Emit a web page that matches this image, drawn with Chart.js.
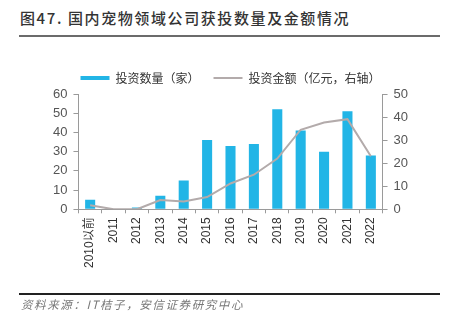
<!DOCTYPE html>
<html lang="zh-CN">
<head>
<meta charset="UTF-8">
<title>国内宠物领域公司获投数量及金额情况</title>
<script src="https://cdn.jsdelivr.net/npm/chart.js"></script>
<style>
  body { margin: 0; background: #fff; }
  .wrap { position: relative; width: 449px; height: 328px; overflow: hidden; }
  .title { position: absolute; left: 20px; top: 7px; font: 500 15px "Noto Sans CJK SC", sans-serif; letter-spacing: 1.6px; color: #333; white-space: nowrap; }
  .rule-top { position: absolute; left: 19px; top: 35px; width: 421px; height: 2px; background: #6b6b6b; }
  .rule-bottom { position: absolute; left: 19px; top: 293px; width: 421px; height: 1.5px; background: #222; }
  .source { position: absolute; left: 21px; top: 296px; font: italic 11.5px "Noto Sans CJK SC", sans-serif; letter-spacing: 1.6px; color: #777; white-space: nowrap; }
  canvas { position: absolute; left: 0; top: 0; }
</style>
</head>
<body>
<div class="wrap">
  <div class="title">图47. 国内宠物领域公司获投数量及金额情况</div>
  <div class="rule-top"></div>
  <canvas id="chart" width="449" height="328"></canvas>
  <div class="rule-bottom"></div>
  <div class="source">资料来源：IT桔子，安信证券研究中心</div>
</div>
<script>
  // 年份
  const years = ['2010以前', '2011', '2012', '2013', '2014', '2015', '2016', '2017', '2018', '2019', '2020', '2021', '2022'];
  // 投资数量（家）
  const dealCount = [5, 0, 1, 7, 15, 36, 33, 34, 52, 41, 30, 51, 28];
  // 投资金额（亿元）
  const dealAmount = [1.8, 0, 0, 4, 3.4, 5.3, 11.2, 15, 22, 34.5, 37.6, 39.1, 23];

  const leftTicks = [0, 10, 20, 30, 40, 50, 60];
  const rightTicks = [0, 10, 20, 30, 40, 50];

  const axisGray = '#9a9a9a';
  const tickFont = { family: '"Liberation Sans", Arial, sans-serif', size: 13 };

  new Chart(document.getElementById('chart'), {
    data: {
      labels: years,
      datasets: [
        {
          type: 'line',
          label: '投资金额（亿元，右轴）',
          data: dealAmount,
          yAxisID: 'y1',
          borderColor: '#b3abab',
          backgroundColor: '#b3abab',
          borderWidth: 2,
          pointRadius: 0,
          pointStyle: 'line',
          tension: 0,
          order: 0
        },
        {
          type: 'bar',
          label: '投资数量（家）',
          data: dealCount,
          yAxisID: 'y',
          backgroundColor: '#22b5e6',
          borderWidth: 0,
          pointStyle: 'rect',
          barPercentage: 0.43,
          categoryPercentage: 1,
          order: 1
        }
      ]
    },
    options: {
      responsive: false,
      animation: false,
      layout: { padding: { top: 58, left: 47, right: 35, bottom: 56 } },
      plugins: {
        tooltip: { enabled: false },
        legend: {
          reverse: true,
          labels: {
            usePointStyle: true,
            pointStyleWidth: 29,
            boxHeight: 4,
            padding: 14,
            color: '#333',
            font: { family: '"Noto Sans CJK SC", sans-serif', size: 12 }
          }
        }
      },
      scales: {
        x: {
          offset: true,
          grid: { offset: true, drawOnChartArea: false, tickLength: 4, color: axisGray },
          border: { color: axisGray },
          ticks: {
            maxRotation: 90, minRotation: 90, padding: 4, color: '#333',
            font: { family: '"Liberation Sans", Arial, "Noto Sans CJK SC", sans-serif', size: 12 }
          }
        },
        y: {
          position: 'left',
          min: 0, max: 60,
          afterBuildTicks: s => { s.ticks = leftTicks.map(v => ({ value: v })); },
          grid: { drawOnChartArea: false, tickLength: 5, color: axisGray },
          border: { color: axisGray },
          ticks: { padding: 6, color: '#555', font: tickFont }
        },
        y1: {
          position: 'right',
          min: 0, max: 50,
          afterBuildTicks: s => { s.ticks = rightTicks.map(v => ({ value: v })); },
          grid: { drawOnChartArea: false, tickLength: 5, color: axisGray },
          border: { color: axisGray },
          ticks: { padding: 6, color: '#555', font: tickFont }
        }
      }
    }
  });
</script>
</body>
</html>
